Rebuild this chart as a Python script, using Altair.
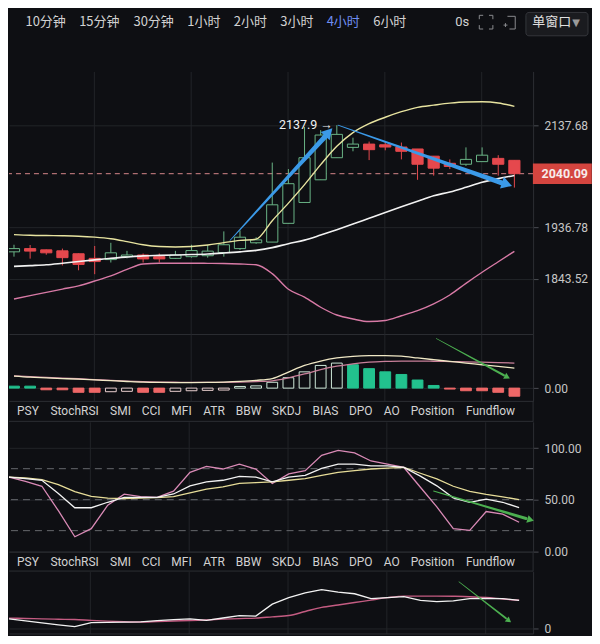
import altair as alt
import pandas as pd

# ------------------------------------------------------------------ values
OPEN = [1891.8, 1897.7, 1895.4, 1893.6, 1888.3, 1879.9, 1877.7, 1883.0, 1886.0, 1883.0,
        1879.9, 1883.0, 1884.7, 1890.6, 1897.7, 1908.4, 1909.7, 1944.6, 1984.2, 2028.1,
        2071.8, 2092.6, 2099.3, 2097.9, 2093.3, 2089.4, 2074.9, 2060.7, 2058.8, 2064.0,
        2070.5, 2066.6]
HIGH = [1904.8, 1904.3, 1895.9, 1897.7, 1888.8, 1902.5, 1908.4, 1893.6, 1888.8, 1888.8,
        1893.6, 1904.8, 1904.3, 1929.5, 1931.3, 1918.7, 2062.1, 2049.2, 2134.3, 2127.7,
        2137.9, 2112.3, 2104.4, 2104.4, 2102.4, 2089.4, 2074.9, 2068.5, 2092.6, 2092.6,
        2076.9, 2066.6]
LOW = [1883.0, 1879.4, 1886.5, 1867.1, 1858.4, 1851.4, 1872.4, 1879.9, 1872.4, 1872.4,
       1878.9, 1881.2, 1881.2, 1883.0, 1895.4, 1906.6, 1909.7, 1944.6, 1984.2, 2028.1,
       2071.8, 2084.7, 2067.1, 2086.7, 2068.5, 2028.1, 2036.3, 2049.2, 2055.5, 2064.0,
       2036.3, 2012.9]
CLOSE = [1897.7, 1893.1, 1890.0, 1881.2, 1868.9, 1874.1, 1890.0, 1886.0, 1878.9, 1878.9,
         1886.0, 1894.1, 1893.1, 1904.8, 1918.7, 1913.8, 1979.7, 2020.5, 2071.8, 2117.7,
         2119.1, 2099.3, 2088.0, 2093.3, 2084.7, 2058.8, 2051.1, 2054.4, 2068.5, 2076.9,
         2058.8, 2040.09]

BB_UPPER = [1923.6, 1922.4, 1921.8, 1921.4, 1920.6, 1918.8, 1915.8, 1910.6, 1904.9, 1901.6,
            1900.7, 1901.6, 1904.3, 1908.8, 1912.8, 1915.1, 1949.6, 1982.9, 2018.6, 2058.0,
            2095.0, 2122.7, 2141.1, 2154.4, 2166.0, 2175.1, 2179.8, 2184.0, 2186.4, 2186.8,
            2184.4, 2177.2]
BB_MIDDLE = [1865.4, 1866.8, 1868.3, 1871.1, 1874.1, 1877.1, 1880.1, 1882.4, 1884.4, 1885.3,
             1886.0, 1886.8, 1887.9, 1889.7, 1891.8, 1894.5, 1899.5, 1906.8, 1913.3, 1922.7,
             1932.7, 1943.2, 1954.2, 1965.2, 1976.0, 1986.6, 1997.1, 2004.4, 2013.5, 2023.2,
             2030.4, 2036.7]
BB_LOWER = [1807.6, 1813.5, 1819.1, 1824.9, 1830.6, 1839.2, 1848.5, 1860.1, 1869.7, 1871.1,
            1871.1, 1871.1, 1870.9, 1870.6, 1869.7, 1868.3, 1852.3, 1824.6, 1811.0, 1793.2,
            1779.8, 1773.0, 1768.6, 1770.5, 1778.6, 1787.4, 1799.1, 1814.6, 1835.1, 1854.9,
            1873.8, 1892.7]

MACD_DIF = [12.3, 11.2, 10.5, 9.8, 9.2, 8.4, 7.6, 6.8, 6.1, 5.8, 5.7, 5.7, 5.8, 6.2, 6.9, 8.0,
            9.8, 16.5, 23.3, 27.8, 31.0, 32.7, 33.3, 33.3, 32.8, 31.0, 29.2, 27.4, 25.7, 24.0,
            22.3, 20.5]
MACD_DEA = [12.5, 11.8, 11.0, 10.3, 9.6, 8.8, 8.0, 7.2, 6.6, 6.2, 6.0, 5.8, 5.8, 5.9, 6.2, 6.7,
            7.5, 10.5, 14.5, 19.0, 22.5, 25.0, 26.6, 27.4, 27.8, 27.8, 27.6, 27.3, 27.0, 26.6,
            26.2, 25.7]
MACD_HIST = [2.0, 2.0, -1.7, -1.7, -4.3, -4.3, -3.7, -3.3, -4.3, -4.3, -3.3, -2.7, -2.3, -2.0,
             1.7, 2.3, 6.0, 10.7, 16.7, 23.3, 25.7, 24.0, 20.0, 16.7, 14.0, 8.3, 2.7, -1.0,
             -2.7, -2.7, -4.3, -8.3]

KDJ_K = [71.9, 70.4, 68.8, 56.0, 42.2, 42.2, 47.5, 52.2, 52.2, 52.2, 55.5, 63.4, 67.2, 68.8,
         72.5, 71.9, 67.2, 71.9, 73.5, 80.3, 84.4, 84.4, 82.8, 82.8, 81.2, 72.8, 63.4, 51.8,
         47.4, 50.5, 47.5, 42.2]
KDJ_D = [71.9, 71.0, 69.5, 64.5, 57.8, 53.1, 51.5, 51.0, 51.5, 52.0, 53.0, 56.5, 60.3, 62.5,
         65.7, 66.5, 67.2, 68.8, 70.4, 73.5, 76.5, 78.2, 79.7, 80.5, 81.2, 75.6, 70.2, 63.0,
         58.1, 55.2, 52.8, 50.0]
KDJ_J = [71.9, 67.7, 63.0, 39.3, 14.1, 21.9, 44.6, 55.3, 53.0, 52.2, 58.3, 76.5, 82.2, 79.7,
         84.4, 79.7, 65.7, 75.0, 78.1, 92.9, 97.8, 95.3, 87.5, 84.4, 81.2, 62.0, 43.0, 21.9,
         20.3, 38.5, 35.9, 28.1]

SUB_FAST = [10.0, 7.9, 5.8, 3.7, 1.9, 6.0, 6.2, 6.5, 6.8, 8.0, 9.1, 9.8, 8.4, 10.8, 13.3, 12.7,
            25.0, 31.7, 36.7, 40.0, 37.3, 35.7, 30.7, 31.7, 32.7, 29.0, 27.7, 28.3, 30.7, 31.0,
            30.7, 29.0]
SUB_SLOW = [10.7, 10.3, 9.9, 9.5, 9.2, 8.3, 7.6, 7.0, 6.7, 7.2, 7.7, 8.2, 8.8, 9.6, 10.2, 10.7,
            12.0, 13.3, 17.5, 21.7, 24.2, 26.7, 29.2, 31.7, 33.3, 33.3, 33.3, 33.1, 32.7, 31.8,
            30.3, 29.0]

LAST_PRICE = 2040.09
PEAK_PRICE = 2137.9
PEAK_INDEX = 20
PRICE_TICKS = [2137.68, 1936.78, 1843.52]
DAY_LINES = [4.92, 10.92, 16.92, 22.92, 28.92]
KDJ_TICKS = [0, 50, 100]
KDJ_LEVELS = [20, 50, 80]

TIMEFRAMES = ["10分钟", "15分钟", "30分钟", "1小时", "2小时", "3小时", "4小时", "6小时"]
ACTIVE_TF = "4小时"
INDICATORS = ["PSY", "StochRSI", "SMI", "CCI", "MFI", "ATR", "BBW", "SKDJ", "BIAS", "DPO",
              "AO", "Position", "Fundflow"]

# hand-drawn arrows: (candle index, value) of tail and head base, head centre
ARROW_RISE = {"i": [13.38, 19.28], "v": [1912.8, 2114.7], "head": (19.5, 2123.4)}
ARROW_FALL = {"i": [20.07, 30.17], "v": [2137.9, 2022.6], "head": (30.54, 2019.4)}
ARROW_MACD = {"i": [26.16, 30.35], "v": [51.0, 13.2], "head": (30.56, 11.3)}
ARROW_KDJ = {"i": [25.8, 31.42], "v": [58.4, 31.8], "head": (31.70, 30.4)}
ARROW_SUB = {"i": [27.34, 30.2], "v": [48.0, 10.5], "head": (30.38, 8.1)}

# ------------------------------------------------------------------ layout / style
BG = "#0e0f13"
GRID = "#222428"
BORDER = "#2c2e33"
TICK = "#4a4c52"
AXIS_TXT = "#c6c6c6"
TXT = "#d2d2d2"
UP = "#6ab587"
DOWN = "#e5484d"
BOX = "#d4453f"
TEAL = "#22c28e"
BAR_RED = "#ee6767"
BLUE = "#3b9ae8"
GREEN_ARROW = "#4caf50"
FONT = "Roboto"
CJK = "Noto Sans CJK SC"

W = 525
FULL_W = 584
H_TOP, H_MAIN, H_MACD, H_TAB1, H_KDJ, H_TAB2, H_SUB = 63, 263, 67, 21, 130, 20, 62
X_DOMAIN = [0, 31.85]
TF_X = [36.7, 90.5, 144.9, 195.2, 241.8, 288.3, 334.8, 381.4]
IND_X = [19.0, 65.7, 111.7, 142.4, 172.8, 205.4, 239.9, 278.1, 317.0, 352.3, 383.3, 424.2, 482.3]
ICON_SEGS = [
    (471.1, 6.8, 475.0, 6.8), (471.1, 6.8, 471.1, 10.7),
    (480.8, 6.8, 484.7, 6.8), (484.7, 6.8, 484.7, 10.7),
    (471.1, 20.5, 475.0, 20.5), (471.1, 16.6, 471.1, 20.5),
    (480.8, 20.5, 484.7, 20.5), (484.7, 16.6, 484.7, 20.5),
    (499.3, 7.8, 507.1, 7.8), (507.1, 7.8, 507.1, 20.5), (501.3, 20.5, 507.1, 20.5),
    (495.4, 16.6, 499.3, 16.6), (497.3, 14.6, 497.3, 18.5),
]

ONE = pd.DataFrame({"k": [0]})
idx = list(range(len(CLOSE)))


def x_enc(field="i"):
    return alt.X(f"{field}:Q", scale=alt.Scale(domain=X_DOMAIN, nice=False, zero=False),
                 axis=alt.Axis(title=None, labels=False, ticks=False, domain=True,
                               domainColor=BORDER, grid=True, gridColor=GRID,
                               values=DAY_LINES))


def y_axis(values, fmt):
    return alt.Axis(orient="right", title=None, values=values, format=fmt,
                    labelColor=AXIS_TXT, labelFont=FONT, labelFontSize=12,
                    ticks=True, tickColor=TICK, tickSize=5, labelPadding=6,
                    domain=True, domainColor=BORDER, grid=True, gridColor=GRID)


def arrow_layers(spec, yenc, color, widths, head_size, angle):
    df = pd.DataFrame({"i": spec["i"], "v": spec["v"], "part": ["tail", "base"]})
    trail = alt.Chart(df).mark_trail(color=color).encode(
        x=x_enc(), y=yenc("v"),
        size=alt.Size("part:O", scale=alt.Scale(domain=["tail", "base"], range=widths),
                      legend=None))
    hd = pd.DataFrame({"i": [spec["head"][0]], "v": [spec["head"][1]]})
    head = alt.Chart(hd).mark_point(shape="triangle-up", filled=True, size=head_size,
                                    angle=angle, color=color, opacity=1,
                                    strokeWidth=0).encode(x=x_enc(), y=yenc("v"))
    return [trail, head]


# ------------------------------------------------------------------ top bar
tf = pd.DataFrame({"name": TIMEFRAMES, "px": TF_X})
tabs = alt.Chart(tf).mark_text(font=CJK, fontSize=13, baseline="middle", align="center").encode(
    x=alt.X("px:Q", scale=None), y=alt.value(13.7), text="name:N",
    color=alt.condition(f"datum.name == '{ACTIVE_TF}'", alt.value("#6e8ef2"), alt.value(TXT)))
zero_s = alt.Chart(ONE).mark_text(font=FONT, fontSize=13, color=TXT, baseline="middle",
                                  align="center", text="0s").encode(
    x=alt.value(454), y=alt.value(13.7))
icons = [alt.Chart(ONE).mark_rule(color="#8a8b8f", strokeWidth=1).encode(
    x=alt.value(a), y=alt.value(b), x2=alt.value(c), y2=alt.value(d)) for a, b, c, d in ICON_SEGS]
button = alt.Chart(ONE).mark_rect(fill="#1a1b1f", stroke="#34363b", cornerRadius=3).encode(
    x=alt.value(517.8), x2=alt.value(580), y=alt.value(3.9), y2=alt.value(27.3))
button_txt = alt.Chart(ONE).mark_text(font=CJK, fontSize=13, color="#e0e0e0", baseline="middle",
                                      align="center", text="单窗口").encode(
    x=alt.value(543.6), y=alt.value(13.7))
button_arrow = alt.Chart(ONE).mark_text(font="DejaVu Sans", fontSize=10, color="#9a9a9a",
                                        baseline="middle", align="center", text="▼").encode(
    x=alt.value(568), y=alt.value(14.5))
top = alt.layer(tabs, zero_s, *icons, button, button_txt, button_arrow).properties(
    width=FULL_W, height=H_TOP)

# ------------------------------------------------------------------ main candles
cdf = pd.DataFrame({"i": idx, "open": OPEN, "high": HIGH, "low": LOW, "close": CLOSE})
bdf = pd.DataFrame({"i": idx, "upper": BB_UPPER, "middle": BB_MIDDLE, "lower": BB_LOWER})
ps = alt.Scale(type="log", domain=[1747.5, 2251.9], nice=False, zero=False)
pax = y_axis(PRICE_TICKS, ".2f")


def py(field):
    return alt.Y(f"{field}:Q", scale=ps, axis=pax)


is_up = "datum.close >= datum.open"
pdf = pd.DataFrame({"price": [LAST_PRICE]})
price_line = alt.Chart(pdf).mark_rule(color="#d6878a", strokeWidth=1, strokeDash=[5, 4]).encode(
    y=py("price"))
wick = alt.Chart(cdf).mark_rule(strokeWidth=1, clip=True).encode(
    x=x_enc(), y=py("low"), y2="high:Q",
    color=alt.condition(is_up, alt.value(UP), alt.value(DOWN)))
body = alt.Chart(cdf).mark_bar(size=11.2, strokeWidth=1, clip=True).encode(
    x=x_enc(), y=py("open"), y2="close:Q",
    fill=alt.condition(is_up, alt.value(BG), alt.value(DOWN)),
    stroke=alt.condition(is_up, alt.value(UP), alt.value(DOWN)))


def band(field, color, w):
    return alt.Chart(bdf).mark_line(color=color, strokeWidth=w, interpolate="monotone",
                                    clip=True).encode(x=x_enc(), y=py(field))


peak = pd.DataFrame({"i": [PEAK_INDEX], "price": [PEAK_PRICE], "label": [f"{PEAK_PRICE} →"]})
peak_txt = alt.Chart(peak).mark_text(align="right", baseline="middle", dx=-4, font=FONT,
                                     fontSize=12.5, color="#f2f2f2").encode(
    x=x_enc(), y=py("price"), text="label:N")
price_box = alt.Chart(pdf).mark_tick(orient="horizontal", size=59, thickness=20.5, color=BOX,
                                     opacity=1).encode(y=py("price"), x=alt.value(554.3))
price_txt = alt.Chart(pdf).mark_text(align="left", baseline="middle", font=FONT, fontSize=12.5,
                                     fontWeight="bold", color="#f7ecec").encode(
    y=py("price"), x=alt.value(533.4), text=alt.Text("price:Q", format=".2f"))

main = alt.layer(
    price_line, wick, body,
    band("upper", "#e8e4a0", 1.4), band("middle", "#f2f2f2", 1.6), band("lower", "#d87aa6", 1.4),
    *arrow_layers(ARROW_RISE, py, BLUE, [0.8, 5], 150, 42.7),
    *arrow_layers(ARROW_FALL, py, BLUE, [0.8, 5], 150, 108.4),
    peak_txt, price_box, price_txt,
).properties(width=W, height=H_MAIN)

# ------------------------------------------------------------------ MACD panel
mdf = pd.DataFrame({"i": idx, "dif": MACD_DIF, "dea": MACD_DEA, "hist": MACD_HIST})
mdf["prev"] = mdf["hist"].shift(1).fillna(mdf["hist"].iloc[0])
mdf["zero"] = 0.0
ms = alt.Scale(domain=[-13.1, 55.6], nice=False, zero=False)
max_ = y_axis([0], ".2f")


def my(field):
    return alt.Y(f"{field}:Q", scale=ms, axis=max_)


KINDS = ["uf", "uh", "df", "dh"]
bars = alt.Chart(mdf).transform_calculate(
    kind="datum.hist > datum.prev ? (datum.hist >= 0 ? 'uh' : 'dh') : (datum.hist >= 0 ? 'uf' : 'df')"
).mark_bar(size=10.8, strokeWidth=1, clip=True).encode(
    x=x_enc(), y=my("hist"), y2="zero:Q",
    fill=alt.Fill("kind:N", scale=alt.Scale(domain=KINDS, range=[TEAL, BG, BAR_RED, BG]),
                  legend=None),
    stroke=alt.Stroke("kind:N", scale=alt.Scale(domain=KINDS,
                                                range=[TEAL, "#cfe9da", BAR_RED, "#ead0d0"]),
                      legend=None))
dif = alt.Chart(mdf).mark_line(color="#f1e9c6", strokeWidth=1.3, interpolate="monotone",
                               clip=True).encode(x=x_enc(), y=my("dif"))
dea = alt.Chart(mdf).mark_line(color="#c9809a", strokeWidth=1.3, interpolate="monotone",
                               clip=True).encode(x=x_enc(), y=my("dea"))
macd = alt.layer(bars, dea, dif, *arrow_layers(ARROW_MACD, my, GREEN_ARROW, [0.7, 2.2], 45, 118)
                 ).properties(width=W, height=H_MACD)


# ------------------------------------------------------------------ indicator tab rows
def tab_row(h, ty):
    tdf = pd.DataFrame({"name": INDICATORS, "px": IND_X})
    t = alt.Chart(tdf).mark_text(font=FONT, fontSize=12, color=TXT, align="center",
                                 baseline="middle").encode(
        x=alt.X("px:Q", scale=None), y=alt.value(ty), text="name:N")
    bottom = alt.Chart(ONE).mark_rule(color=BORDER).encode(
        x=alt.value(0), x2=alt.value(W), y=alt.value(h - 0.5))
    right = alt.Chart(ONE).mark_rule(color=BORDER).encode(
        x=alt.value(W), y=alt.value(0), y2=alt.value(h))
    return alt.layer(t, bottom, right).properties(width=W, height=h)


tab1 = tab_row(H_TAB1, 10.6)
tab2 = tab_row(H_TAB2, 10.1)

# ------------------------------------------------------------------ KDJ panel
kdf = pd.DataFrame({"i": idx, "k": KDJ_K, "d": KDJ_D, "j": KDJ_J})
ks = alt.Scale(domain=[-0.3, 125.4], nice=False, zero=False)
kax = y_axis(KDJ_TICKS, ".2f")


def ky(field):
    return alt.Y(f"{field}:Q", scale=ks, axis=kax)


levels = alt.Chart(pd.DataFrame({"lvl": KDJ_LEVELS})).mark_rule(
    color="#66686d", strokeWidth=1, strokeDash=[7, 5]).encode(y=ky("lvl"))
kdj = alt.layer(
    levels,
    alt.Chart(kdf).mark_line(color="#d98ab6", strokeWidth=1.3, clip=True).encode(x=x_enc(), y=ky("j")),
    alt.Chart(kdf).mark_line(color="#e6dc98", strokeWidth=1.3, clip=True).encode(x=x_enc(), y=ky("d")),
    alt.Chart(kdf).mark_line(color="#f2f2f2", strokeWidth=1.3, clip=True).encode(x=x_enc(), y=ky("k")),
    *arrow_layers(ARROW_KDJ, ky, GREEN_ARROW, [0.8, 3.0], 60, 106.6),
).properties(width=W, height=H_KDJ)

# ------------------------------------------------------------------ bottom panel
sdf = pd.DataFrame({"i": idx, "fast": SUB_FAST, "slow": SUB_SLOW})
ss = alt.Scale(domain=[-5.1, 58.5], nice=False, zero=False)
sax = y_axis([0], "d")


def sy(field):
    return alt.Y(f"{field}:Q", scale=ss, axis=sax)


sub = alt.layer(
    alt.Chart(sdf).mark_line(color="#c45c82", strokeWidth=1.4, interpolate="monotone",
                             clip=True).encode(x=x_enc(), y=sy("slow")),
    alt.Chart(sdf).mark_line(color="#f2f2f2", strokeWidth=1.3, clip=True).encode(
        x=x_enc(), y=sy("fast")),
    *arrow_layers(ARROW_SUB, sy, GREEN_ARROW, [0.7, 2.0], 40, 127.8),
).properties(width=W, height=H_SUB)

chart = alt.vconcat(top, main, macd, tab1, kdj, tab2, sub, spacing=0, bounds="flush").resolve_scale(
    x="independent", y="independent", size="independent", fill="independent",
    stroke="independent"
).properties(background=BG, padding=0).configure_view(stroke=None)

chart.save("out.html", embed_options={"renderer": "svg", "actions": False})
